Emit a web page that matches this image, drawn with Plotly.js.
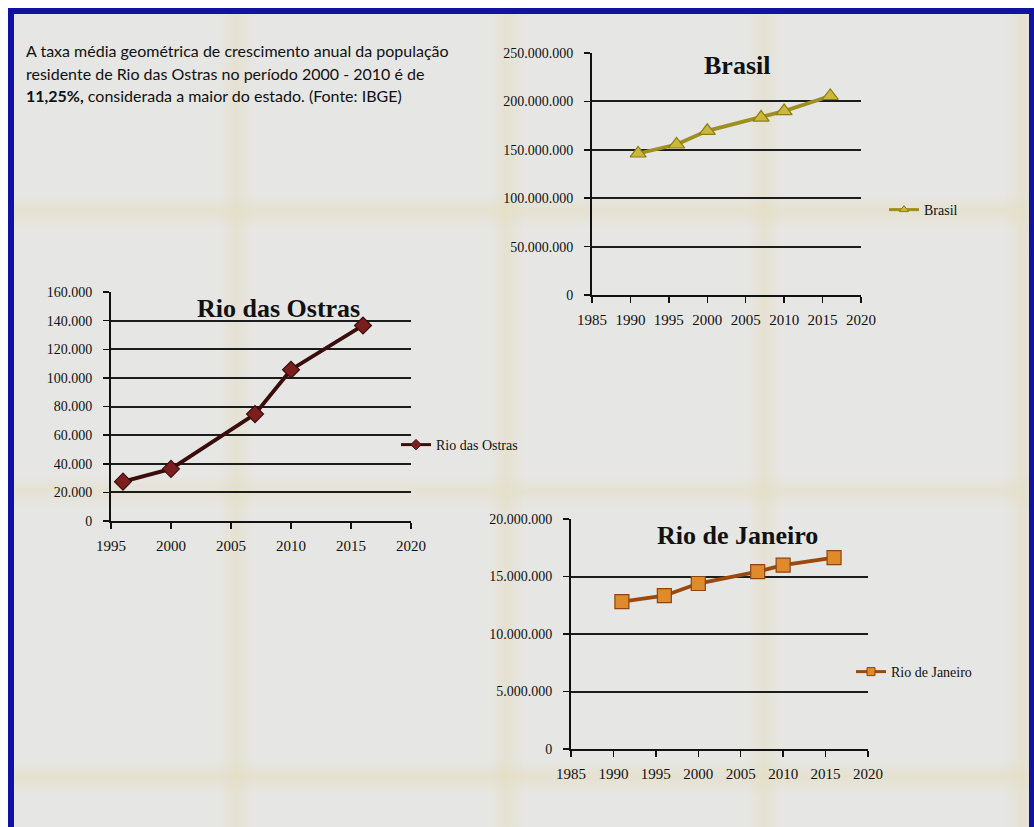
<!DOCTYPE html>
<html>
<head>
<meta charset="utf-8">
<script src="https://cdn.plot.ly/plotly-3.0.1.min.js"></script>
<style>
  html, body { margin: 0; padding: 0; background: #ffffff; }
  #frame {
    position: absolute; left: 8px; top: 8px; width: 1026px; height: 819px;
    box-sizing: border-box;
    border-top: 6px solid #1212a2; border-left: 6px solid #1212a2; border-right: 5px solid #1212a2;
    background-color: #e6e6e4;
    background-image:
      linear-gradient(to right, transparent 205px, rgba(228,220,185,0.42) 222px, transparent 240px),
      linear-gradient(to right, transparent 475px, rgba(228,220,185,0.42) 492px, transparent 510px),
      linear-gradient(to right, transparent 733px, rgba(228,220,185,0.42) 750px, transparent 768px),
      linear-gradient(to right, transparent 990px, rgba(228,220,185,0.42) 1008px, transparent 1026px),
      linear-gradient(to bottom, transparent 180px, rgba(228,220,185,0.42) 197px, transparent 215px),
      linear-gradient(to bottom, transparent 460px, rgba(228,220,185,0.38) 477px, transparent 495px),
      linear-gradient(to bottom, transparent 745px, rgba(228,220,185,0.45) 763px, transparent 781px);
  }
  #chart { position: absolute; left: 0; top: 0; width: 1034px; height: 827px; }
</style>
</head>
<body>
<div id="frame"></div>
<div id="chart"></div>
<script>
// ---- data ----
const brasilYears = [1991, 1996, 2000, 2007, 2010, 2016];
const brasilPop = [146200000, 155500000, 169600000, 183300000, 190000000, 205600000];

const ostrasYears = [1996, 2000, 2007, 2010, 2016];
const ostrasPop = [27500, 36400, 74700, 105700, 136600];

const rjYears = [1991, 1996, 2000, 2007, 2010, 2016];
const rjPop = [12810000, 13330000, 14390000, 15420000, 15990000, 16640000];

const xTickYearsA = [1985, 1990, 1995, 2000, 2005, 2010, 2015, 2020];
const xTickYearsB = [1995, 2000, 2005, 2010, 2015, 2020];

const noteLines = [
  "A taxa média geométrica de crescimento anual da população",
  "residente de Rio das Ostras no período 2000 - 2010 é de",
  "<b>11,25%,</b> considerada a maior do estado. (Fonte: IBGE)"
];
const chartTitles = ["Brasil", "Rio das Ostras", "Rio de Janeiro"];
const seriesNames = ["Brasil", "Rio das Ostras", "Rio de Janeiro"];

// ---- helpers ----
const W = 1034, H = 827;
const px = v => v / W;
const py = v => 1 - v / H;
const serif = "Liberation Serif, Times New Roman, serif";

function xAxis(domain, range, ticks) {
  return {
    domain: domain, range: range, tickvals: ticks, ticktext: ticks.map(String),
    showgrid: false, zeroline: false, showline: true, linecolor: "#111", linewidth: 2,
    ticks: "outside", ticklen: 6, tickwidth: 1.5, tickcolor: "#111",
    ticklabelstandoff: 4,
    tickfont: { family: serif, size: 15, color: "#111" }, fixedrange: true
  };
}
function yAxis(domain, range, dtick) {
  return {
    domain: domain, range: range, dtick: dtick, tick0: 0, tickformat: ",d",
    showgrid: true, gridcolor: "#1c1c1c", gridwidth: 2, zeroline: false,
    showline: true, linecolor: "#111", linewidth: 2,
    ticks: "outside", ticklen: 6, tickwidth: 1.5, tickcolor: "#111",
    ticklabelstandoff: 8,
    tickfont: { family: serif, size: 14, color: "#111" }, fixedrange: true
  };
}

const styles = [
  { line: "#9f8f1e", sym: "triangle-up", fill: "#cbb83a", edge: "#8c7c14", size: 14 },
  { line: "#3a0d0d", sym: "diamond", fill: "#7c1e1e", edge: "#3a0d0d", size: 13 },
  { line: "#9a4a0e", sym: "square", fill: "#e08a2c", edge: "#8a4510", size: 14 }
];
const seriesX = [brasilYears, ostrasYears, rjYears];
const seriesY = [brasilPop, ostrasPop, rjPop];
const axisIds = [["x", "y"], ["x2", "y2"], ["x3", "y3"]];
const legendIds = ["legend", "legend2", "legend3"];

const traces = [];
for (let i = 0; i < 3; i++) {
  const s = styles[i];
  traces.push({
    x: seriesX[i], y: seriesY[i], name: seriesNames[i], type: "scatter", mode: "lines+markers",
    xaxis: axisIds[i][0], yaxis: axisIds[i][1], showlegend: false,
    line: { color: s.line, width: 3.8 },
    marker: { symbol: s.sym, size: s.size, color: s.fill, line: { color: s.edge, width: 1.2 } }
  });
  // legend-only entry with a smaller key, as in the original
  traces.push({
    x: [null], y: [null], name: seriesNames[i], type: "scatter", mode: "lines+markers",
    xaxis: axisIds[i][0], yaxis: axisIds[i][1], showlegend: true, legend: legendIds[i],
    line: { color: s.line, width: 3 },
    marker: { symbol: s.sym, size: 8, color: s.fill, line: { color: s.edge, width: 1 } }
  });
}

const legendBase = {
  bgcolor: "rgba(0,0,0,0)", borderwidth: 0, xanchor: "left", yanchor: "middle",
  font: { family: serif, size: 14, color: "#111" }, itemwidth: 30, itemsizing: "trace"
};

const annotations = [];
noteLines.forEach((t, i) => {
  annotations.push({
    xref: "paper", yref: "paper", x: px(24), y: py(51 + i * 22), xanchor: "left", yanchor: "middle",
    text: t, showarrow: false, align: "left",
    font: { family: "Lato, Liberation Sans, sans-serif", size: 16, color: "#111" }
  });
});
const titlePos = [[737, 66], [278, 308], [737, 535]];
chartTitles.forEach((t, i) => {
  annotations.push({
    xref: "paper", yref: "paper", x: px(titlePos[i][0]), y: py(titlePos[i][1]),
    xanchor: "center", yanchor: "middle", text: "<b>" + t + "</b>", showarrow: false,
    font: { family: serif, size: 26, color: "#111" }
  });
});

const layout = {
  width: W, height: H, margin: { l: 0, r: 0, t: 0, b: 0 },
  paper_bgcolor: "rgba(0,0,0,0)", plot_bgcolor: "rgba(0,0,0,0)",
  separators: ",.",
  showlegend: true,
  xaxis: xAxis([px(592), px(861)], [1985, 2020], xTickYearsA),
  yaxis: yAxis([py(295), py(53)], [0, 250000000], 50000000),
  xaxis2: xAxis([px(111), px(411)], [1995, 2020], xTickYearsB),
  yaxis2: yAxis([py(521), py(292)], [0, 160000], 20000),
  xaxis3: xAxis([px(571), px(868)], [1985, 2020], xTickYearsA),
  yaxis3: yAxis([py(749), py(519)], [0, 20000000], 5000000),
  legend: Object.assign({}, legendBase, { x: px(884), y: py(210) }),
  legend2: Object.assign({}, legendBase, { x: px(396), y: py(445) }),
  legend3: Object.assign({}, legendBase, { x: px(851), y: py(672) }),
  annotations: annotations
};
layout.yaxis.anchor = "x"; layout.xaxis.anchor = "y";
layout.yaxis2.anchor = "x2"; layout.xaxis2.anchor = "y2";
layout.yaxis3.anchor = "x3"; layout.xaxis3.anchor = "y3";

Plotly.newPlot("chart", traces, layout, { displayModeBar: false, staticPlot: true });
</script>
</body>
</html>
